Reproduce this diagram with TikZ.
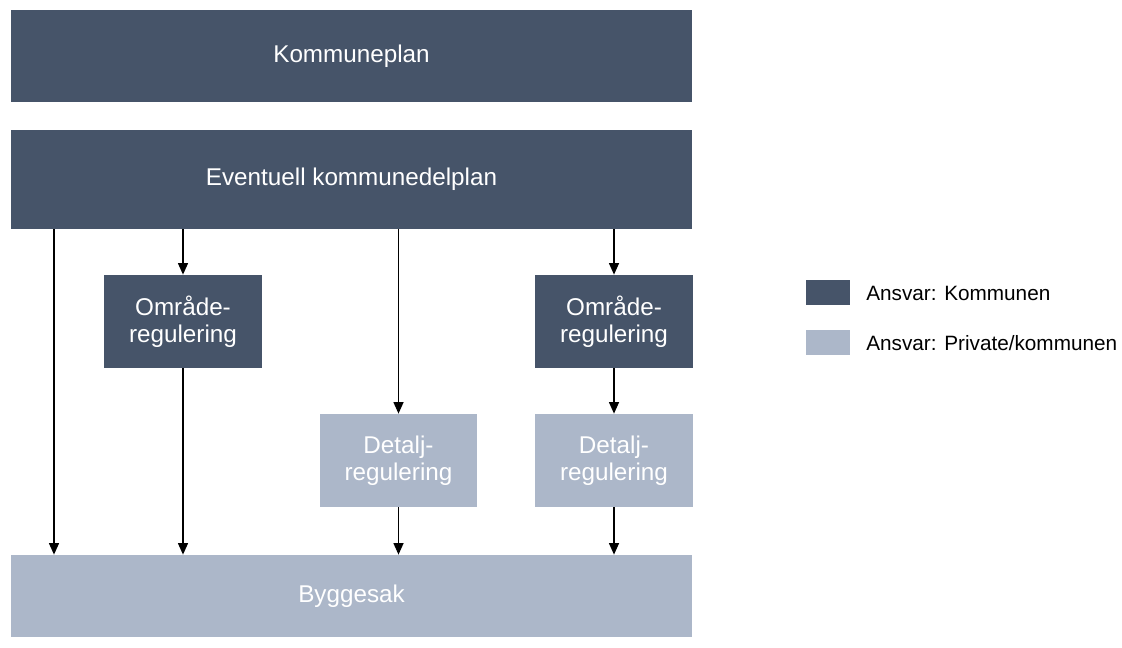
\documentclass[tikz,border=0pt]{standalone}
\usepackage{fontspec}
\setmainfont{Liberation Sans}
\usepackage{xcolor}
\usetikzlibrary{arrows.meta}

\definecolor{mork}{RGB}{70,84,105}
\definecolor{lys}{RGB}{172,183,201}

\begin{document}
\begin{tikzpicture}[x=0.02cm,y=-0.02cm,
  plan/.style={fill=mork,text=white,inner sep=0pt,align=center,
    font=\fontsize{13.8}{15.5}\selectfont},
  privat/.style={plan,fill=lys},
  bred/.style={minimum width=13.62cm},
  liten/.style={minimum width=3.16cm,minimum height=1.86cm},
  pil/.style={-{Triangle[length=6.5pt,width=5.6pt]},line width=0.8pt},
  forklaring/.style={font=\fontsize{11.8}{14}\selectfont,anchor=west,inner sep=0pt}]
  \useasboundingbox (0,0) rectangle (1122,648);

  % hovedplaner
  \node[plan,bred,minimum height=1.84cm] (kp) at (351.5,56) {Kommuneplan};
  \node[plan,bred,minimum height=1.98cm] (kdp) at (351.5,179.5) {Eventuell kommunedelplan};

  % reguleringer
  \node[plan,liten] (omr1) at (183,321.5) {Område-\\regulering};
  \node[plan,liten] (omr2) at (614,321.5) {Område-\\regulering};
  \node[privat,liten] (det1) at (398.5,460.5) {Detalj-\\regulering};
  \node[privat,liten] (det2) at (614,460.5) {Detalj-\\regulering};

  \node[privat,bred,minimum height=1.64cm] (bygg) at (351.5,596) {Byggesak};

  % piler
  \coordinate (venstre) at (54,400);
  \draw[pil] (kdp.south -| venstre) -- (bygg.north -| venstre);
  \draw[pil] (kdp.south -| omr1) -- (omr1.north);
  \draw[pil] (omr1.south) -- (bygg.north -| omr1);
  \draw[pil] (kdp.south -| det1) -- (det1.north);
  \draw[pil] (det1.south) -- (bygg.north -| det1);
  \draw[pil] (kdp.south -| omr2) -- (omr2.north);
  \draw[pil] (omr2.south) -- (det2.north);
  \draw[pil] (det2.south) -- (bygg.north -| det2);

  % forklaring
  \node[fill=mork,minimum width=0.88cm,minimum height=0.5cm,inner sep=0pt] (f1) at (828,292.5) {};
  \node[fill=lys,minimum width=0.88cm,minimum height=0.5cm,inner sep=0pt] (f2) at (828,342.5) {};
  \node[forklaring] (t1) at (866,293) {Ansvar: Kommunen};
  \node[forklaring] (t2) at (866,343) {Ansvar: Private/kommunen};
\end{tikzpicture}
\end{document}
